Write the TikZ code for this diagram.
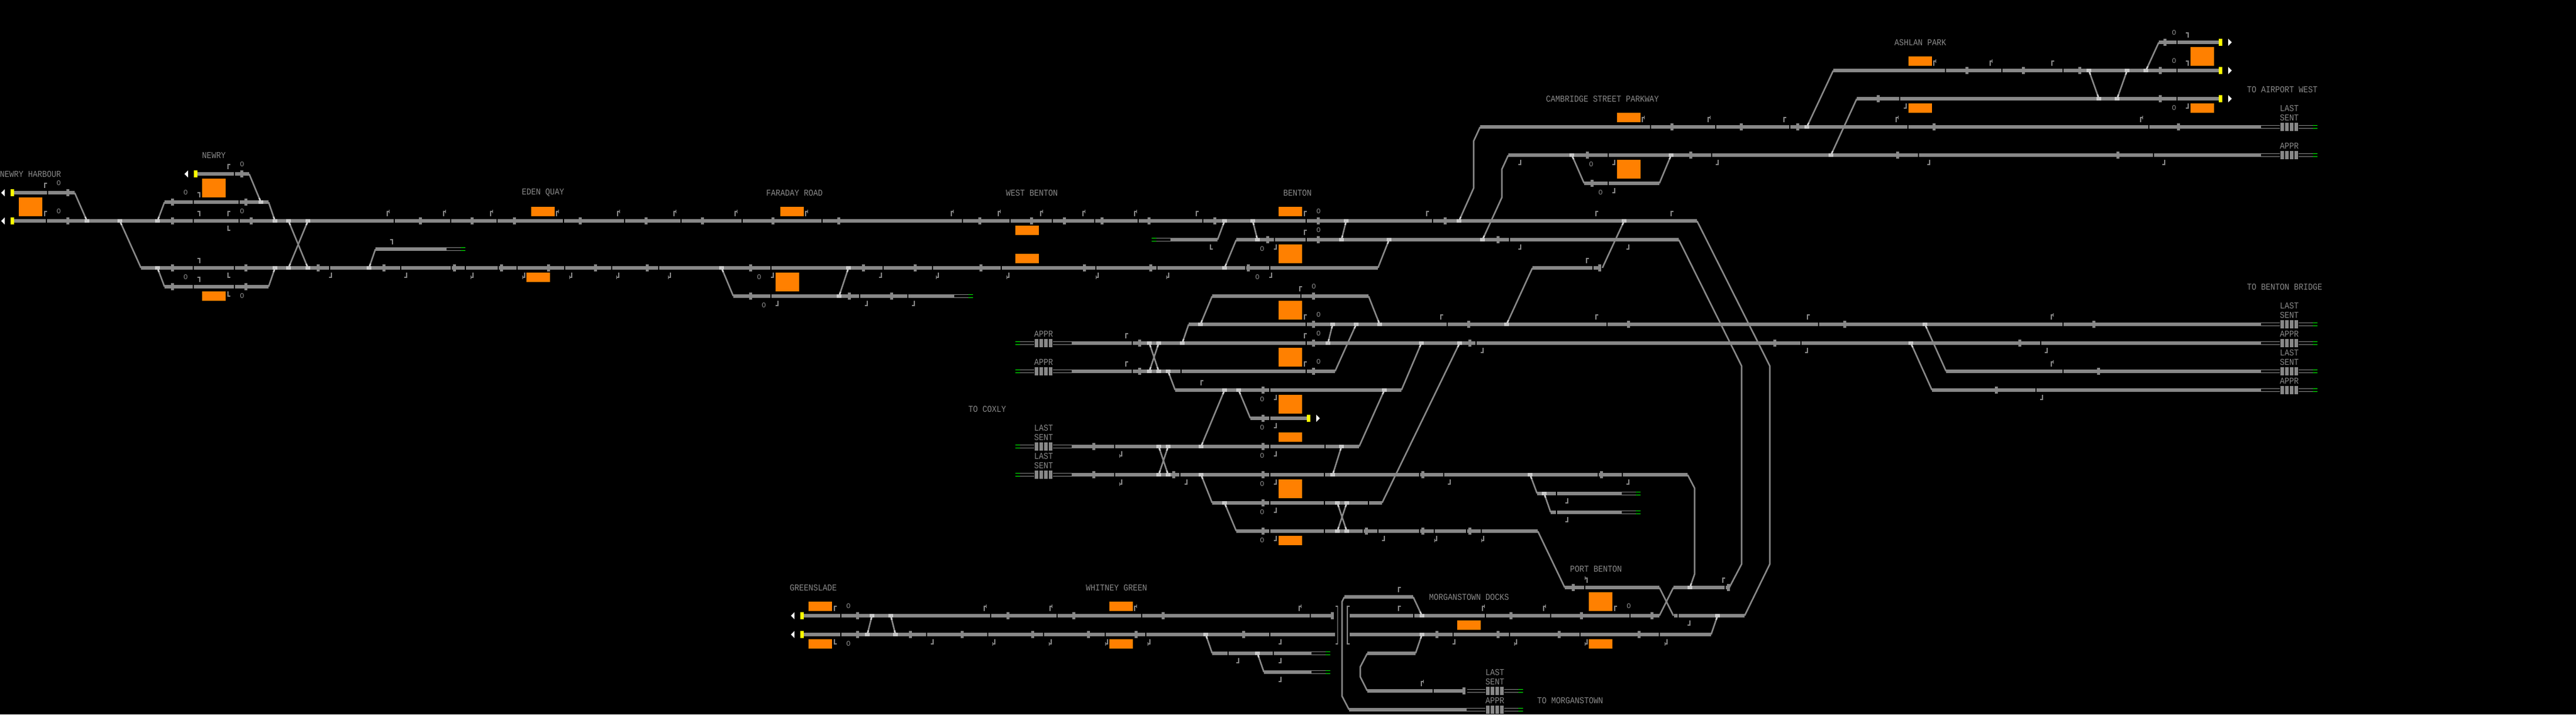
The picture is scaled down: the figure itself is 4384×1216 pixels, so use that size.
\documentclass[tikz,border=0pt]{standalone}
\usepackage{fontspec}
\usepackage{graphicx}
\usetikzlibrary{calc}
\newfontfamily\termfont{Liberation Mono}
\definecolor{trackgray}{HTML}{888888}
\definecolor{ptlight}{HTML}{CCCCCC}
\definecolor{panelorange}{HTML}{FF8000}
\definecolor{sigyellow}{HTML}{FFFF00}
\definecolor{endgreen}{HTML}{00FF00}
\tikzset{
  trackline/.style={draw=trackgray,line width=3pt},
  diagline/.style={draw=trackgray,line width=1.3pt,line join=miter},
  stubline/.style={draw=ptlight,line width=1.3pt},
  hairline/.style={draw=trackgray,line width=0.55pt},
  glyphline/.style={draw=trackgray,line width=0.75pt},
  tagtext/.style={text=trackgray,inner sep=0pt,font=\termfont\fontsize{6.667pt}{8pt}\selectfont},
  ringtext/.style={text=trackgray,inner sep=0pt,font=\termfont\fontsize{6pt}{7pt}\selectfont},
}
\newcounter{tn}
% tracks and marks (all coordinates in reference pixels)
\newcommand\trk[3]{\draw[trackline] (#2,#1) -- (#3,#1);}
\newcommand\gps[2]{\foreach \q in {#2}{\fill[black] (\q-0.9,#1-4) rectangle (\q+0.9,#1+4);}}
\newcommand\tks[2]{\foreach \q in {#2}{\fill[trackgray] (\q-2.5,#1-6) rectangle (\q+2.5,#1+6);}}
\newcommand\pts[2]{\foreach \q in {#2}{\fill[ptlight] (\q-4,#1-3) rectangle (\q+4,#1+3);}}
\newcommand\stub[4]{\pgfmathsetmacro\stf{7/abs(#4-#2)}\draw[stubline] (#1,#2) -- ($(#1,#2)!\stf!(#3,#4)$);}
\newcommand\dg[4]{\draw[diagline] (#1,#2) -- (#3,#4);}
\newcommand\dgp[4]{\dg{#1}{#2}{#3}{#4}\stub{#1}{#2}{#3}{#4}}
\newcommand\dgpp[4]{\dg{#1}{#2}{#3}{#4}\stub{#1}{#2}{#3}{#4}\stub{#3}{#4}{#1}{#2}}
\newcommand\thinpair[3]{\draw[hairline] (#1,#3-2.6) -- (#2,#3-2.6) (#1,#3+2.6) -- (#2,#3+2.6);}
\newcommand\grn[2]{\draw[endgreen,line width=0.55pt] (#1,#2-2.6) -- (#1+8,#2-2.6) (#1,#2+2.6) -- (#1+8,#2+2.6);}
\newcommand\blk[2]{\foreach \q in {-12,-4,4,12}{\fill[trackgray] (#1+\q-3,#2-7) rectangle (#1+\q+3,#2+7);}}
\newcommand\orng[4]{\fill[panelorange] (#1,#3) rectangle (#2,#4);}
\newcommand\yel[2]{\fill[sigyellow] (#1-3,#2-6) rectangle (#1+3,#2+6);}
\newcommand\arrL[2]{\fill[white] (#1-3,#2) -- (#1+3,#2-6) -- (#1+3,#2+6) -- cycle;}
\newcommand\arrR[2]{\fill[white] (#1+3,#2) -- (#1-3,#2-6) -- (#1-3,#2+6) -- cycle;}
% text
\newcommand\lab[3]{\stepcounter{tn}\node[tagtext] (t\arabic{tn}) at (#1,#2) {\scalebox{1}[1.15]{#3}};}
\newcommand\rings[2]{\foreach \q in {#2}{\stepcounter{tn}\node[ringtext] (t\arabic{tn}) at (\q,#1) {O};}}
% corner glyphs: the list is of cell centres
\newcommand\gTL[2]{\foreach \q in {#2}{\draw[glyphline] (\q+4,#1) -- (\q,#1) -- (\q,#1+8);}}
\newcommand\gTR[2]{\foreach \q in {#2}{\draw[glyphline] (\q-4,#1) -- (\q,#1) -- (\q,#1+8);}}
\newcommand\gBL[2]{\foreach \q in {#2}{\draw[glyphline] (\q+4,#1) -- (\q,#1) -- (\q,#1-8);}}
\newcommand\gBR[2]{\foreach \q in {#2}{\draw[glyphline] (\q-4,#1) -- (\q,#1) -- (\q,#1-8);}}
\newcommand\gUR[2]{\foreach \q in {#2}{\draw[glyphline] (\q-1,#1+8) -- (\q-1,#1) -- (\q+3,#1) (\q+2.5,#1-3) -- (\q+2.5,#1+3);}}
\newcommand\gDL[2]{\foreach \q in {#2}{\draw[glyphline] (\q+1,#1-8) -- (\q+1,#1) -- (\q-3,#1) (\q-2.5,#1-3) -- (\q-2.5,#1+3);}}
\newcommand\gUL[2]{\foreach \q in {#2}{\draw[glyphline] (\q+1,#1+8) -- (\q+1,#1) -- (\q-3,#1) (\q-2.5,#1-3) -- (\q-2.5,#1+3);}}
\begin{document}
\begin{tikzpicture}[x=0.5pt,y=-0.5pt]
\useasboundingbox (0,0) rectangle (4384,1216);
\fill[black] (0,0) rectangle (4384,1216);
% ---------------- tracks ----------------
% Newry
\trk{296}{336}{424} \gps{296}{399} \tks{296}{411}
\trk{328}{24}{127} \gps{328}{81} \tks{328}{115}
\trk{344}{280}{457} \gps{344}{329,407} \tks{344}{293,418} \pts{344}{444}
\trk{376}{24}{2888}
\gps{376}{79,329,407,671,767,846,959,1063,1159,1263,1399,1638,1719,1791,1863,1937,2047,2223,2438}
\tks{376}{115,293,427,715,803,875,987,1099,1195,1315,1427,1667,1755,1811,1875,1955,2067,2243,2459}
\pts{376}{148,204,268,468,491,524,2084,2132,2291,2483,2764}
\trk{424}{639}{760} \thinpair{760}{792}{424} \grn{784}{424}
\trk{456}{240}{2345}
\gps{456}{329,399,561,682,768,792,848,880,961,1041,1121,1312,1503,1587,1704,1865,1969,2120,2161}
\tks{456}{293,418,541,653,773,853,933,1013,1101,1277,1469,1557,1669,1845,1958,2124}
\pts{456}{268,468,491,524,628,1228,1444,2084}
\trk{488}{280}{457} \gps{488}{329,399} \tks{488}{293,418}
\trk{504}{1248}{1624} \thinpair{1624}{1656}{504} \grn{1648}{504}
\gps{504}{1312,1463,1545} \tks{504}{1277,1445,1517} \pts{504}{1428}
% Benton
\thinpair{1960}{1992}{408} \grn{1960}{408} \trk{408}{1992}{2072}
\trk{408}{2104}{2857} \gps{408}{2169,2223,2569} \tks{408}{2157,2243,2549} \pts{408}{2140,2283,2364,2523}
\trk{504}{2063}{2329} \gps{504}{2214} \tks{504}{2235}
\trk{552}{2023}{3848}
\gps{552}{2223,2463,2735,3095,3511} \tks{552}{2235,2499,2771,3139,3563} \pts{552}{2043,2268,2308,2348,2564,3276}
\thinpair{1728}{1760}{584} \blk{1776}{584} \thinpair{1792}{1824}{584} \grn{1728}{584}
\trk{584}{1824}{3848}
\gps{584}{1927,2223,2512,3065,3473} \tks{584}{1939,2235,2501,3020,3437} \pts{584}{1956,1972,2012,2260,2419,2484,3252}
\thinpair{1728}{1760}{632} \blk{1776}{632} \thinpair{1792}{1824}{632} \grn{1728}{632}
\trk{632}{1824}{2272}
\gps{632}{1927,2010,2223} \tks{632}{1939,2235} \pts{632}{1956,1972,1988}
\trk{664}{2000}{2385} \gps{664}{2161} \tks{664}{2149} \pts{664}{2084,2108,2356}
\trk{712}{2128}{2225} \gps{712}{2161} \tks{712}{2149}
\thinpair{1728}{1760}{760} \blk{1776}{760} \thinpair{1792}{1824}{760} \grn{1728}{760}
\trk{760}{1824}{2313} \gps{760}{1897,2161,2255} \tks{760}{1861,2149} \pts{760}{1972,1988,2044,2283}
\thinpair{1728}{1760}{808} \blk{1776}{808} \thinpair{1792}{1824}{808} \grn{1728}{808}
\trk{808}{1824}{2872}
\gps{808}{1897,2008,2161,2254,2416,2457,2720,2761} \tks{808}{1861,1997,2149,2421,2725} \pts{808}{1972,1988,2044,2268,2604}
\trk{840}{2616}{2760} \gps{840}{2649} \pts{840}{2628} \thinpair{2760}{2792}{840} \grn{2784}{840}
\trk{872}{2639}{2760} \gps{872}{2649} \thinpair{2760}{2792}{872} \grn{2784}{872}
\trk{856}{2063}{2352} \gps{856}{2161,2254,2329} \tks{856}{2149} \pts{856}{2084,2276,2292}
\trk{904}{2104}{2617} \gps{904}{2161,2254,2320,2345,2416,2441,2496,2521} \tks{904}{2149,2325,2421,2501} \pts{904}{2276,2292}
\trk{456}{2608}{2725} \gps{456}{2711} \tks{456}{2722}
% Cambridge Street Parkway and Ashlan Park
\trk{216}{2519}{3848} \gps{216}{2809,2920,3046,3247,3657} \tks{216}{2845,2963,3059,3291,3707} \pts{216}{3075}
\thinpair{3848}{3880}{216} \blk{3896}{216} \thinpair{3912}{3944}{216} \grn{3936}{216}
\trk{264}{2567}{3848} \gps{264}{2737,2913,3265,3665} \tks{264}{2701,2877,3229,3604} \pts{264}{2675,2844,3116}
\thinpair{3848}{3880}{264} \blk{3896}{264} \thinpair{3912}{3944}{264} \grn{3936}{264}
\trk{312}{2696}{2824} \gps{312}{2737} \tks{312}{2709}
\trk{72}{3674}{3776} \gps{72}{3705} \tks{72}{3684}
\trk{120}{3120}{3776} \gps{120}{3311,3407,3511,3705} \tks{120}{3347,3443,3539,3676} \pts{120}{3555,3620,3652}
\trk{168}{3160}{3776} \gps{168}{3233,3705} \tks{168}{3196,3676} \pts{168}{3572,3603}
% Benton Bridge
\thinpair{3848}{3880}{552} \blk{3896}{552} \thinpair{3912}{3944}{552} \grn{3936}{552}
\thinpair{3848}{3880}{584} \blk{3896}{584} \thinpair{3912}{3944}{584} \grn{3936}{584}
\trk{632}{3312}{3848} \gps{632}{3511} \tks{632}{3571}
\thinpair{3848}{3880}{632} \blk{3896}{632} \thinpair{3912}{3944}{632} \grn{3936}{632}
\trk{664}{3288}{3848} \gps{664}{3465} \tks{664}{3397}
\thinpair{3848}{3880}{664} \blk{3896}{664} \thinpair{3912}{3944}{664} \grn{3936}{664}
% Greenslade and Whitney Green
\trk{1048}{1368}{2269} \gps{1048}{1431,1686,1799,1943,2230} \tks{1048}{1459,1715,1827,1979,2267} \pts{1048}{1484,1516}
\trk{1080}{1368}{2272} \gps{1080}{1431,1577,1681,1776,1881,1950,2161} \tks{1080}{1459,1549,1637,1757,1852,1933,2116} \pts{1080}{1476,1524,2052}
\trk{1112}{2063}{2232} \gps{1112}{2090,2167} \pts{1112}{2140} \thinpair{2232}{2264}{1112} \grn{2256}{1112}
\trk{1144}{2151}{2232} \thinpair{2232}{2264}{1144} \grn{2256}{1144}
% Morganstown Docks and Port Benton
\trk{1000}{2663}{2824} \gps{1000}{2697} \tks{1000}{2677}
\trk{1000}{2848}{2943} \gps{1000}{2936} \tks{1000}{2941} \pts{1000}{2876}
\trk{1016}{2288}{2405}
\trk{1048}{2297}{2824} \gps{1048}{2406,2528,2639,2774} \tks{1048}{2571,2691,2811} \pts{1048}{2420}
\trk{1048}{2849}{2969} \gps{1048}{2856} \pts{1048}{2923}
\trk{1080}{2297}{2912} \gps{1080}{2473,2569,2689,2824} \tks{1080}{2445,2549,2653,2789} \pts{1080}{2420}
\trk{1112}{2327}{2409}
\trk{1176}{2327}{2491} \gps{1176}{2439} \tks{1176}{2491}
\thinpair{2497}{2528}{1176} \blk{2544}{1176} \thinpair{2560}{2592}{1176} \grn{2584}{1176}
\trk{1208}{2296}{2496} \thinpair{2496}{2528}{1208} \blk{2544}{1208} \thinpair{2560}{2592}{1208} \grn{2584}{1208}
% brackets
\draw[glyphline] (2273,1032) -- (2276.5,1032) -- (2276.5,1096) -- (2273,1096);
\draw[glyphline] (2296.5,1032) -- (2293,1032) -- (2293,1096) -- (2296.5,1096);
% ---------------- diagonals ----------------
\dgp{148}{376}{127}{328}
\dgp{204}{376}{240}{456}
\dgp{268}{376}{280}{344}
\dgp{268}{456}{280}{488}
\dgp{444}{344}{424}{296}
\dgp{468}{376}{457}{344}
\dgp{468}{456}{457}{488}
\dgpp{491}{376}{524}{456}
\dgpp{524}{376}{491}{456}
\dgp{628}{456}{639}{424}
\dgp{1228}{456}{1248}{504}
\dgpp{1444}{456}{1428}{504}
\dgp{2084}{376}{2072}{408}
\dgp{2084}{456}{2104}{408}
\dgpp{2132}{376}{2140}{408}
\dgpp{2291}{376}{2283}{408}
\dgp{2364}{408}{2345}{456}
\dgp{2043}{552}{2063}{504}
\dgp{2348}{552}{2329}{504}
\dgp{2012}{584}{2023}{552}
\dgpp{2260}{584}{2268}{552}
\dgp{2308}{552}{2272}{632}
\dgpp{1956}{584}{1972}{632}
\dgpp{1972}{584}{1956}{632}
\dgp{1988}{632}{2000}{664}
\dgp{2419}{584}{2385}{664}
\dgp{2484}{584}{2352}{856}
\dgp{2108}{664}{2128}{712}
\dgpp{2084}{664}{2044}{760}
\dgp{2356}{664}{2313}{760}
\dgpp{2283}{760}{2268}{808}
\dgpp{1972}{760}{1988}{808}
\dgpp{1988}{760}{1972}{808}
\dgp{2044}{808}{2063}{856}
\dgp{2084}{856}{2104}{904}
\dgpp{2276}{856}{2292}{904}
\dgpp{2292}{856}{2276}{904}
\dgp{2764}{376}{2727}{456}
\dgp{2564}{552}{2608}{456}
\draw[diagline] (2888,376) -- (3012,623) -- (3012,960) -- (2969,1048);
\draw[diagline] (2857,408) -- (2964,623) -- (2964,960) -- (2943,1000);
\draw[diagline] (2872,808) -- (2884,831) -- (2884,977) -- (2876,1000); \stub{2876}{1000}{2884}{977}
\dgp{2604}{808}{2616}{840}
\dgp{2628}{840}{2639}{872}
\draw[diagline] (2483,376) -- (2508,320) -- (2508,240) -- (2519,216); \stub{2483}{376}{2508}{320}
\draw[diagline] (2523,408) -- (2556,336) -- (2556,288) -- (2567,264); \stub{2523}{408}{2556}{336}
\dgp{2675}{264}{2696}{312}
\dgp{2844}{264}{2824}{312}
\dgp{3075}{216}{3120}{120}
\dgp{3116}{264}{3160}{168}
\dgp{3652}{120}{3674}{72}
\dgpp{3555}{120}{3572}{168}
\dgpp{3620}{120}{3603}{168}
\dgp{3276}{552}{3312}{632}
\dgp{3252}{584}{3288}{664}
\dgpp{1484}{1048}{1476}{1080}
\dgpp{1516}{1048}{1524}{1080}
\dgp{2052}{1080}{2063}{1112}
\dgp{2140}{1112}{2151}{1144}
\draw[diagline] (2288,1016) -- (2284,1024) -- (2284,1185) -- (2296,1208);
\dgp{2420}{1048}{2405}{1016}
\dgp{2420}{1080}{2409}{1112}
\draw[diagline] (2327,1112) -- (2315,1135) -- (2315,1152) -- (2327,1176);
\dg{2617}{904}{2663}{1000}
\dg{2824}{1000}{2848}{1048}
\dg{2848}{1000}{2824}{1048}
\dgp{2923}{1048}{2912}{1080}
% ---------------- panels ----------------
\orng{32}{72}{336}{368} \orng{344}{384}{304}{336} \orng{344}{384}{496}{512}
\orng{904}{944}{352}{368} \orng{896}{936}{464}{480}
\orng{1328}{1368}{352}{368} \orng{1320}{1360}{464}{496}
\orng{1728}{1768}{384}{400} \orng{1728}{1768}{432}{448}
\orng{2176}{2216}{352}{368} \orng{2176}{2216}{416}{448} \orng{2176}{2216}{512}{544}
\orng{2176}{2216}{592}{624} \orng{2176}{2216}{672}{704} \orng{2176}{2216}{736}{752}
\orng{2176}{2216}{816}{848} \orng{2176}{2216}{912}{928}
\orng{2752}{2792}{192}{208} \orng{2752}{2792}{272}{304}
\orng{3248}{3288}{96}{112} \orng{3248}{3288}{176}{192}
\orng{3728}{3768}{80}{112} \orng{3728}{3768}{176}{192}
\orng{1376}{1416}{1024}{1040} \orng{1376}{1416}{1088}{1104}
\orng{1888}{1928}{1024}{1040} \orng{1888}{1928}{1088}{1104}
\orng{2480}{2520}{1056}{1072} \orng{2704}{2744}{1008}{1040} \orng{2704}{2744}{1088}{1104}
% ---------------- line-end signals ----------------
\yel{21}{328} \arrL{5}{328} \yel{21}{376} \arrL{5}{376}
\yel{333}{296} \arrL{317}{296}
\yel{2227}{712} \arrR{2243}{712}
\yel{3779}{72} \arrR{3795}{72} \yel{3779}{120} \arrR{3795}{120} \yel{3779}{168} \arrR{3795}{168}
\yel{1365}{1048} \arrL{1349}{1048} \yel{1365}{1080} \arrL{1349}{1080}
% ---------------- labels ----------------
\lab{52}{296}{NEWRY HARBOUR}
\lab{364}{264}{NEWRY}
\lab{924}{328}{EDEN QUAY}
\lab{1352}{328}{FARADAY ROAD}
\lab{1756}{328}{WEST BENTON}
\lab{2208}{328}{BENTON}
\lab{2727}{168}{CAMBRIDGE STREET PARKWAY}
\lab{3268}{72}{ASHLAN PARK}
\lab{3884}{152}{TO AIRPORT WEST}
\lab{3896}{184}{LAST} \lab{3896}{200}{SENT} \lab{3896}{248}{APPR}
\lab{3888}{488}{TO BENTON BRIDGE}
\lab{3896}{520}{LAST} \lab{3896}{536}{SENT} \lab{3896}{568}{APPR}
\lab{3896}{600}{LAST} \lab{3896}{616}{SENT} \lab{3896}{648}{APPR}
\lab{1776}{568}{APPR} \lab{1776}{616}{APPR}
\lab{1680}{696}{TO COXLY}
\lab{1776}{728}{LAST} \lab{1776}{744}{SENT} \lab{1776}{776}{LAST} \lab{1776}{792}{SENT}
\lab{1384}{1000}{GREENSLADE}
\lab{1900}{1000}{WHITNEY GREEN}
\lab{2716}{968}{PORT BENTON}
\lab{2500}{1016}{MORGANSTOWN DOCKS}
\lab{2544}{1144}{LAST} \lab{2544}{1160}{SENT} \lab{2544}{1192}{APPR}
\lab{2672}{1192}{TO MORGANSTOWN}
% ---------------- signal glyphs ----------------
\rings{312}{100} \rings{360}{100,412} \rings{280}{412} \rings{328}{316} \rings{472}{316,1292,2140} \rings{504}{412} \rings{520}{1300}
\gTL{312}{76} \gTL{360}{76,388} \gTL{280}{388} \gBL{392}{388} \gBL{472}{388} \gBL{504}{388}
\gTR{328}{340} \gTR{360}{340} \gTR{440}{340} \gTR{472}{340} \gTR{408}{668}
\gBR{472}{564,692,1316,1500,2164} \gBR{520}{1324,1476,1556}
\gUR{360}{660,756,836,948,1052,1148,1252,1372,1620,1700,1772,1844,1932}
\gDL{472}{804,892,972,1052,1140,1596,1716,1868,1988}
\gTL{360}{2036,2220,2428,2716,2844} \rings{360}{2244}
\gTL{392}{2220} \rings{392}{2244}
\gBL{424}{2060} \rings{424}{2148} \gBR{424}{2172,2588,2772}
\gTL{488}{2212} \rings{488}{2236}
\gTL{536}{2220,2452,2716,3076} \rings{536}{2244}
\gTL{568}{1916,2220} \rings{568}{2244}
\gTL{616}{1916,2220} \rings{616}{2244}
\gTL{648}{2044}
\rings{680}{2148} \rings{728}{2148} \rings{776}{2148} \rings{824}{2148} \rings{872}{2148} \rings{920}{2148}
\gBR{680}{2172} \gBR{728}{2172} \gBR{776}{2172} \gBR{824}{2020,2172,2468,2772} \gBR{872}{2172} \gBR{920}{2172,2356} \gBR{856}{2668} \gBR{888}{2668}
\gDL{776}{1908} \gDL{824}{1908} \gDL{920}{2444,2524}
\gBR{600}{2524,3076,3484} \gBR{680}{3476}
\gUR{536}{3492} \gUR{616}{3492}
\gUR{200}{2796,2908,3228,3644} \gTL{200}{3036}
\gBR{280}{2588,2748,2924,3284,3684} \rings{280}{2708} \rings{328}{2724} \gBR{328}{2748}
\gTL{440}{2700}
\rings{56}{3700} \rings{104}{3700} \gTR{56}{3724} \gTR{104}{3724}
\gUR{104}{3292,3388} \gTL{104}{3492}
\gBR{184}{3244,3724} \rings{184}{3700}
\gTL{1032}{1420,2380,2748} \rings{1032}{1444,2772} \gBL{1096}{1420} \rings{1096}{1444}
\gUR{1032}{1676,1788,1932,2212,2524,2628}
\gBR{1096}{1588,2180,2476} \gDL{1096}{1692,1788,1884,1956,2580,2700,2836}
\gBR{1128}{2108,2180} \gBR{1160}{2180}
\gTL{1000}{2380} \gTL{984}{2932} \gUL{984}{2700} \gBR{1064}{2876} \gUR{1160}{2420}
\end{tikzpicture}
\end{document}
